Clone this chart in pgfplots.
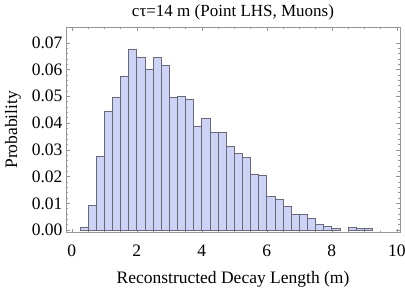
\documentclass[border=0pt]{standalone}
\usepackage{fontspec}
\setmainfont{Liberation Serif}
\usepackage{pgfplots}
\pgfplotsset{compat=1.18}
\definecolor{barfill}{RGB}{204,211,246}
\definecolor{baredge}{RGB}{105,105,120}
\definecolor{framec}{RGB}{150,150,150}
\begin{document}
\begin{tikzpicture}
\path[use as bounding box] (-66pt,-54.5pt) rectangle (339pt,232.5pt);
\begin{axis}[
  at={(0pt,0pt)}, anchor=south west,
  scale only axis, width=334pt, height=205.5pt,
  xmin=-0.18, xmax=10.1, ymin=-0.0009, ymax=0.0759,
  xtick={0,2,...,10}, minor x tick num=3,
  ytick={0,0.01,...,0.07}, minor y tick num=4,
  yticklabel style={/pgf/number format/fixed,/pgf/number format/fixed zerofill,/pgf/number format/precision=2},
  scaled y ticks=false,
  /pgf/number format/assume math mode=true,
  tick align=inside, major tick length=4pt, minor tick length=2pt,
  every tick/.style={framec, line width=0.5pt},
  axis line style={framec, line width=0.6pt},
  ticklabel style={font=\fontsize{17.5}{20}\selectfont, black},
  xticklabel style={yshift=-9pt},
  label style={font=\fontsize{17.5}{20}\selectfont},
  title style={font=\fontsize{17}{20}\selectfont, yshift=-3pt},
  title={cτ=14 m (Point LHS, Muons)},
  xlabel={Reconstructed Decay Length (m)},
  ylabel={Probability},
  ylabel style={yshift=4pt},
  xlabel style={yshift=-8pt},
]
\addplot[ybar interval, fill=barfill, draw=baredge, line width=0.7pt] coordinates {
(0.25,0.0012) (0.5,0.0091) (0.75,0.0275) (1.0,0.0445) (1.25,0.0497)
(1.5,0.0576) (1.75,0.0674) (2.0,0.0647) (2.25,0.0600) (2.5,0.0644)
(2.75,0.0614) (3.0,0.0497) (3.25,0.0500) (3.5,0.0489) (3.75,0.0387)
(4.0,0.0418) (4.25,0.0365) (4.5,0.0367) (4.75,0.0314) (5.0,0.0287)
(5.25,0.0270) (5.5,0.0210) (5.75,0.0204) (6.0,0.0127) (6.25,0.0115)
(6.5,0.0088) (6.75,0.0058) (7.0,0.0058) (7.25,0.0044) (7.5,0.0021)
(7.75,0.0014) (8.0,0.0005) (8.25,0.0005)
};
\addplot[ybar interval, fill=barfill, draw=baredge, line width=0.7pt] coordinates {
(8.5,0.0012) (8.75,0.0005) (9.0,0.0005) (9.25,0.0005)
};
\end{axis}
\end{tikzpicture}
\end{document}
